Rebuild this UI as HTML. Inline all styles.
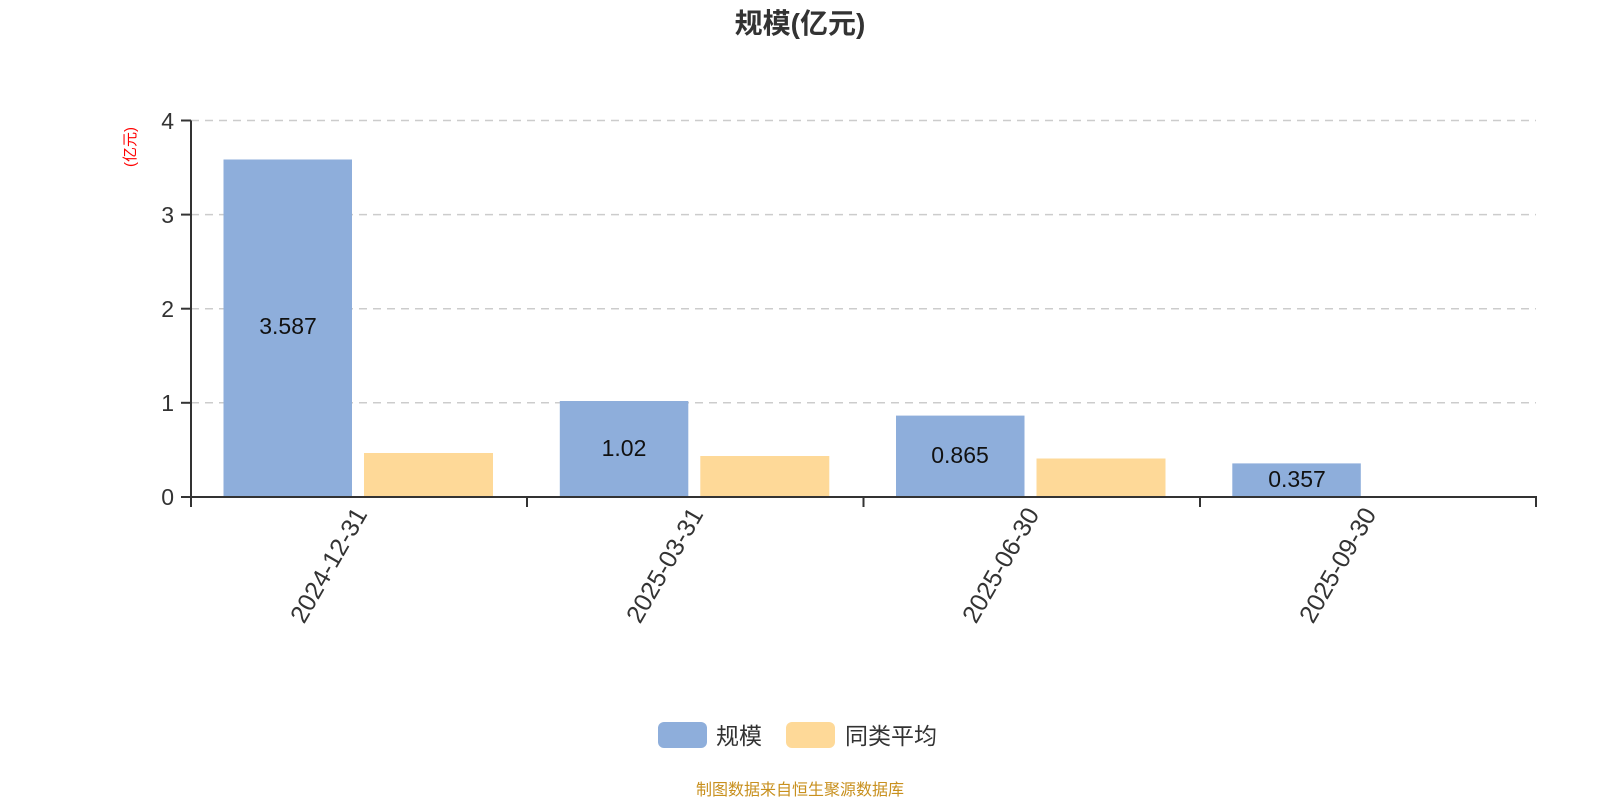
<!DOCTYPE html>
<html><head><meta charset="utf-8"><style>body{margin:0;background:#fff}svg{display:block}text{font-family:"Liberation Sans","Noto Sans CJK SC",sans-serif}</style></head><body>
<svg width="1600" height="800" viewBox="0 0 1600 800">
<text x="800" y="33" text-anchor="middle" font-size="28" font-weight="bold" fill="#333">规模(亿元)</text>
<text transform="translate(135,147) rotate(-90)" text-anchor="middle" font-size="15" fill="#f00">(亿元)</text>
<g stroke="#ccc" stroke-width="1.5" stroke-dasharray="8,6">
<line x1="191" y1="120.5" x2="1536" y2="120.5"/>
<line x1="191" y1="214.6" x2="1536" y2="214.6"/>
<line x1="191" y1="308.7" x2="1536" y2="308.7"/>
<line x1="191" y1="402.8" x2="1536" y2="402.8"/>
</g>
<g font-size="23" fill="#333" text-anchor="end">
<text x="174" y="129">4</text><text x="174" y="223">3</text><text x="174" y="317">2</text><text x="174" y="411">1</text><text x="174" y="505">0</text>
</g>
<g fill="#8eaedb">
<rect x="223.5" y="159.5" width="128.5" height="337.5"/>
<rect x="559.8" y="401" width="128.5" height="96"/>
<rect x="896" y="415.6" width="128.5" height="81.4"/>
<rect x="1232.3" y="463.4" width="128.5" height="33.6"/>
</g>
<g fill="#fed998">
<rect x="364" y="453" width="129" height="44"/>
<rect x="700.3" y="456" width="129" height="41"/>
<rect x="1036.5" y="458.5" width="129" height="38.5"/>
</g>
<g font-size="23" fill="#111" text-anchor="middle">
<text x="288" y="334">3.587</text><text x="624" y="456">1.02</text><text x="960" y="463">0.865</text><text x="1297" y="487">0.357</text>
</g>
<g stroke="#333" stroke-width="2" fill="none">
<line x1="191" y1="120.5" x2="191" y2="497"/>
<line x1="181" y1="120.5" x2="191" y2="120.5"/><line x1="181" y1="214.6" x2="191" y2="214.6"/><line x1="181" y1="308.7" x2="191" y2="308.7"/><line x1="181" y1="402.8" x2="191" y2="402.8"/><line x1="181" y1="497" x2="191" y2="497"/>
<line x1="191" y1="497" x2="1537" y2="497"/>
<line x1="191" y1="497" x2="191" y2="507"/><line x1="527" y1="497" x2="527" y2="507"/><line x1="863.5" y1="497" x2="863.5" y2="507"/><line x1="1200" y1="497" x2="1200" y2="507"/><line x1="1536" y1="497" x2="1536" y2="507"/>
</g>
<g font-size="25" fill="#333" text-anchor="end">
<text transform="translate(368,514) rotate(-60)">2024-12-31</text>
<text transform="translate(704,514) rotate(-60)">2025-03-31</text>
<text transform="translate(1040,514) rotate(-60)">2025-06-30</text>
<text transform="translate(1377,514) rotate(-60)">2025-09-30</text>
</g>
<rect x="658" y="722" width="49" height="26" rx="6" fill="#8eaedb"/>
<text x="716" y="744" font-size="23" fill="#333">规模</text>
<rect x="786" y="722" width="49" height="26" rx="6" fill="#fed998"/>
<text x="845" y="744" font-size="23" fill="#333">同类平均</text>
<text x="800" y="795" text-anchor="middle" font-size="16" fill="#c8901e">制图数据来自恒生聚源数据库</text>
</svg>
</body></html>
